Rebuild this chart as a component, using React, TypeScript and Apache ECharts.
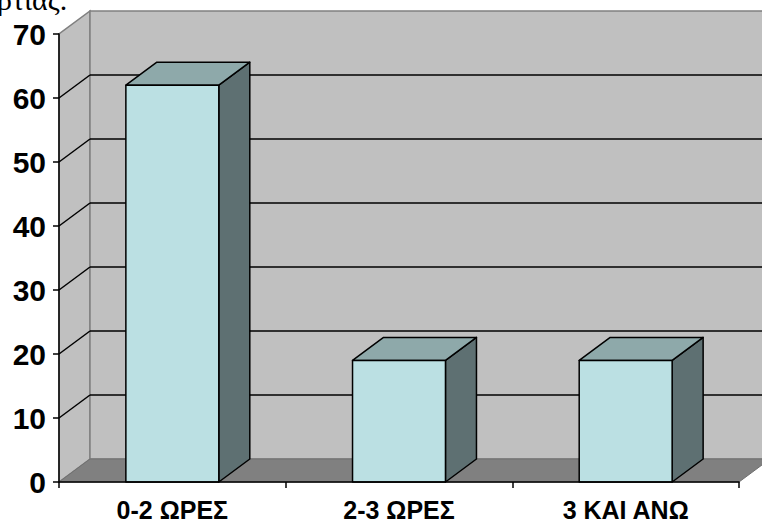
import React, { useEffect, useRef } from "react";
import * as echarts from "echarts";

const categories = ["0-2 ΩΡΕΣ", "2-3 ΩΡΕΣ", "3 ΚΑΙ ΑΝΩ"];
const values = [62, 19, 19];
const yTicks = [0, 10, 20, 30, 40, 50, 60, 70];
const captionText = "ρτιας.";

export default function App() {
  const ref = useRef<HTMLDivElement>(null);
  useEffect(() => {
    const chart = echarts.init(ref.current as HTMLDivElement, null, { renderer: "svg" });
    const DX = 31;
    const DY = -23;
    const yMin = yTicks[0];
    const yMax = yTicks[yTicks.length - 1];
    const gridVals = yTicks.slice(1, -1);
    const font = '"Liberation Sans", Arial, sans-serif';

    const wallsRender = (params: any, api: any) => {
      const n = categories.length;
      const bw = api.size([1, 0])[0];
      const L = api.coord([0, yMin])[0] - bw / 2;
      const R = api.coord([n - 1, yMin])[0] + bw / 2;
      const y0 = api.coord([0, yMin])[1];
      const yT = api.coord([0, yMax])[1];
      const children: any[] = [];
      children.push({
        type: "polygon",
        shape: { points: [[L, y0], [L, yT], [L + DX, yT + DY], [L + DX, y0 + DY]] },
        style: { fill: "#c0c0c0", stroke: "#808080", lineWidth: 1.5 },
      });
      children.push({
        type: "rect",
        shape: { x: L + DX, y: yT + DY, width: R - L, height: y0 - yT },
        style: { fill: "#c0c0c0", stroke: "#808080", lineWidth: 1.5 },
      });
      children.push({
        type: "polygon",
        shape: { points: [[L, y0], [R, y0], [R + DX, y0 + DY], [L + DX, y0 + DY]] },
        style: { fill: "#808080", stroke: "#707070", lineWidth: 1 },
      });
      gridVals.forEach((v) => {
        const y = api.coord([0, v])[1];
        children.push({
          type: "line",
          shape: { x1: L, y1: y, x2: L + DX, y2: y + DY },
          style: { stroke: "#000", lineWidth: 1.5 },
        });
        children.push({
          type: "line",
          shape: { x1: L + DX, y1: y + DY, x2: R + DX, y2: y + DY },
          style: { stroke: "#000", lineWidth: 1.5 },
        });
      });
      return { type: "group", children };
    };

    const barsRender = (params: any, api: any) => {
      const idx = api.value(0);
      const v = api.value(1);
      const base = api.coord([idx, yMin]);
      const top = api.coord([idx, v]);
      const w = api.size([1, 0])[0] * 0.41;
      const x0 = base[0] - w / 2;
      const x1 = base[0] + w / 2;
      const yb = base[1];
      const yt = top[1];
      const stroke = { stroke: "#000", lineWidth: 1.5, lineJoin: "round" };
      return {
        type: "group",
        children: [
          {
            type: "polygon",
            shape: { points: [[x1, yt], [x1 + DX, yt + DY], [x1 + DX, yb + DY], [x1, yb]] },
            style: { fill: "#5e7072", ...stroke },
          },
          {
            type: "polygon",
            shape: { points: [[x0, yt], [x0 + DX, yt + DY], [x1 + DX, yt + DY], [x1, yt]] },
            style: { fill: "#8ea9aa", ...stroke },
          },
          {
            type: "rect",
            shape: { x: x0, y: yt, width: w, height: yb - yt },
            style: { fill: "#bbe0e3", ...stroke },
          },
        ],
      };
    };

    chart.setOption({
      animation: false,
      backgroundColor: "#ffffff",
      grid: { left: 59, top: 34, width: 680, height: 450 },
      xAxis: {
        type: "category",
        data: categories,
        z: 10,
        axisLine: { show: true, lineStyle: { color: "#000", width: 1.5 } },
        axisTick: { show: true, length: 6, lineStyle: { color: "#000", width: 1.5 } },
        axisLabel: {
          color: "#000",
          fontFamily: font,
          fontWeight: "bold",
          fontSize: 25,
          margin: 15,
        },
        splitLine: { show: false },
      },
      yAxis: {
        type: "value",
        min: yMin,
        max: yMax,
        interval: 10,
        z: 10,
        axisLine: { show: true, lineStyle: { color: "#000", width: 1.5 } },
        axisTick: { show: true, length: 6, lineStyle: { color: "#000", width: 1.5 } },
        axisLabel: {
          color: "#000",
          fontFamily: font,
          fontWeight: "bold",
          fontSize: 30,
          margin: 13,
        },
        splitLine: { show: false },
      },
      graphic: [
        {
          type: "text",
          x: -3,
          y: 14,
          style: {
            text: captionText,
            fontSize: 30,
            fontFamily: '"Liberation Serif", "Times New Roman", serif',
            fill: "#000",
            verticalAlign: "bottom",
          },
        },
      ],
      series: [
        {
          type: "custom",
          z: 1,
          silent: true,
          data: [[0, 0]],
          renderItem: wallsRender,
        },
        {
          type: "custom",
          z: 2,
          data: values.map((v, i) => [i, v]),
          encode: { x: 0, y: 1 },
          renderItem: barsRender,
        },
      ],
    });
    return () => chart.dispose();
  }, []);
  return (
    <div
      ref={ref}
      style={{ position: "absolute", left: 0, top: 0, width: 762, height: 522 }}
    />
  );
}
